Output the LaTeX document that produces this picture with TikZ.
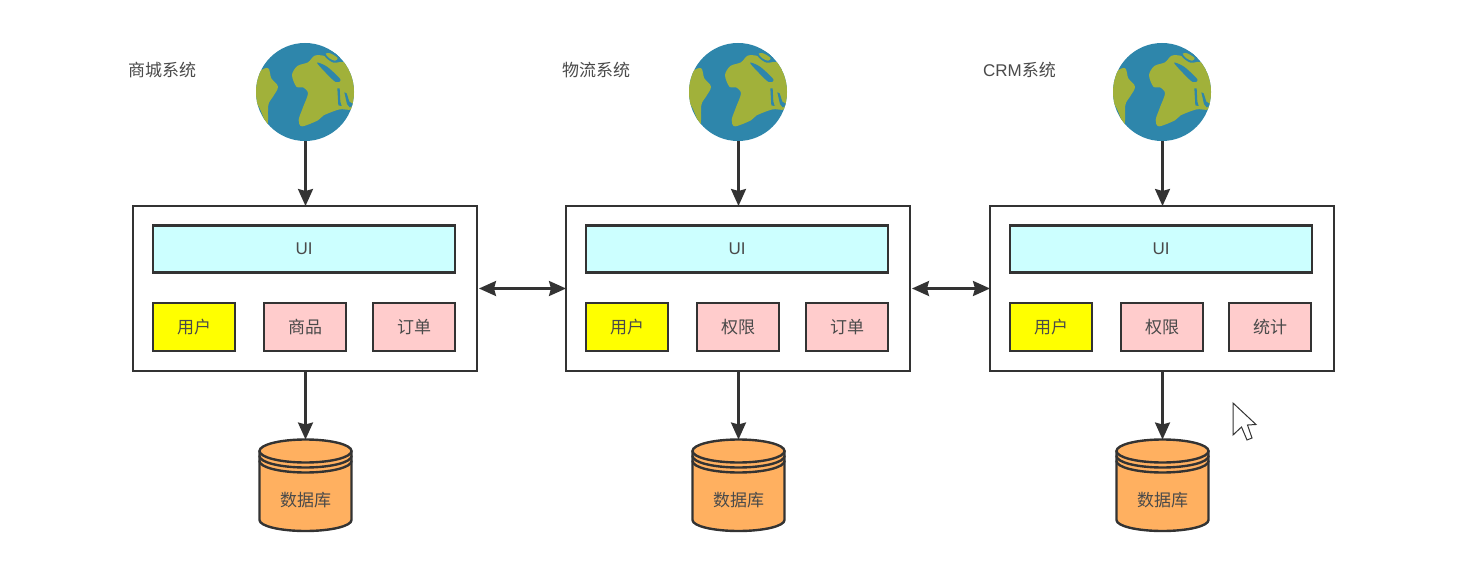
\documentclass[tikz,border=0pt]{standalone}
\usepackage{fontspec}
\setmainfont{Noto Sans CJK SC}
\newfontfamily\latinface{Liberation Sans}
\usetikzlibrary{arrows.meta}
\definecolor{ink}{HTML}{333333}
\definecolor{txt}{HTML}{4A4A4A}
\definecolor{sea}{HTML}{2E86AB}
\definecolor{land}{HTML}{A1B13A}
\definecolor{uifill}{HTML}{CCFFFF}
\definecolor{modpink}{HTML}{FFCCCC}
\definecolor{dborange}{HTML}{FFB060}
\definecolor{sharedyellow}{RGB}{255,255,0}
\newcommand{\dn}[1]{\raisebox{-1pt}{#1}}
\tikzset{
  base/.style={inner sep=0pt,outer sep=0pt,font=\fontsize{17pt}{18pt}\selectfont,text=txt},
  outerbox/.style={base,draw=ink,line width=2.4pt,fill=white,minimum width=344pt,minimum height=165pt},
  uibar/.style={base,draw=ink,line width=2.4pt,fill=uifill,minimum width=302pt,minimum height=47pt},
  module/.style={base,draw=ink,line width=2.4pt,fill=modpink,minimum width=82pt,minimum height=48pt},
  shared/.style={module,fill=sharedyellow},
  caption/.style={base},
  dbanchor/.style={inner sep=0pt,outer sep=0pt,minimum width=92pt,minimum height=92pt},
  globe/.style={circle,inner sep=0pt,outer sep=0pt,minimum size=98pt,fill=sea},
  drum/.style={draw=ink,line width=2.4pt,line cap=round},
  flow/.style={draw=ink,line width=2.4pt,-{Stealth[length=17pt,width=15pt,inset=2pt]}},
  bothways/.style={draw=ink,line width=2.4pt,{Stealth[length=17pt,width=15pt,inset=2pt]}-{Stealth[length=17pt,width=15pt,inset=2pt]}},
}
% Land masses of the globe, in a local grid of 3 units per pixel centred on (196,186)
\newcommand{\landmasses}{
  \fill[land] plot[smooth cycle,tension=0.55] coordinates
    {(40,150)(62,122)(86,115)(95,145)(115,170)(100,200)(86,225)(83,285)(60,235)(35,190)};
  \fill[land] plot[smooth cycle,tension=0.5] coordinates
    {(157,135)(173,108)(205,97)(225,77)(255,78)(285,95)(320,100)(355,150)(355,205)(335,238)(300,238)(252,256)(235,271)(187,289)(177,270)(190,232)(205,190)(190,172)(170,170)};
  \fill[sea] plot[smooth cycle,tension=0.5] coordinates {(232,98)(262,110)(302,148)(288,156)(258,128)};
  \fill[sea] plot[smooth cycle,tension=0.5] coordinates {(250,68)(270,62)(298,78)(302,94)(282,98)(262,86)};
  \fill[land] plot[smooth cycle,tension=0.5] coordinates {(258,71)(272,70)(294,84)(286,92)(268,84)};
  \fill[sea] (293,175) -- (300,175) -- (302,215) -- (306,228) -- (296,226) -- cycle;
  \fill[sea] (314,187) -- (321,190) -- (329,215) -- (345,225) -- (330,232) -- (322,222) -- cycle;
}
% One system column: suffix, centre x, second module offset and text, third module offset and text, caption x, caption
\newcommand{\systemcolumn}[8]{
  \node[globe] (globe#1) at (#2,92) {};
  \begin{scope}
    \clip (#2,92) circle[radius=49];
    \begin{scope}[shift={(#2,92)},x=0.3333pt,y=-0.3333pt,shift={(-196,-186)}]
      \landmasses
    \end{scope}
  \end{scope}
  \node[outerbox] (box#1) at (#2,288.5) {};
  \node[uibar] (ui#1) at (#2-1,249) {\dn{\latinface UI}};
  \node[shared] (user#1) at (#2-111,327) {\dn{用户}};
  \node[module] (modA#1) at (#2+#3,327) {\dn{#4}};
  \node[module] (modB#1) at (#2+#5,327) {\dn{#6}};
  \node[caption] (cap#1) at (#7,70) {#8};
  % database drum: body first, then the rim and its two bands
  \fill[dborange] (#2+0.5-46,451) -- (#2+0.5-46,520) arc[start angle=180,end angle=0,x radius=46,y radius=11] -- (#2+0.5+46,451) -- cycle;
  \draw[drum] (#2+0.5-46,451) -- (#2+0.5-46,520) arc[start angle=180,end angle=0,x radius=46,y radius=11] -- (#2+0.5+46,451);
  \draw[drum] (#2+0.5-46,456) arc[start angle=180,end angle=0,x radius=46,y radius=11.5];
  \draw[drum] (#2+0.5-46,461) arc[start angle=180,end angle=0,x radius=46,y radius=11.5];
  \draw[drum,fill=dborange] (#2+0.5,451) ellipse[x radius=46,y radius=11.5];
  \node[dbanchor] (db#1) at (#2+0.5,485.5) {};
  \node[base] (dbtext#1) at (#2+0.5,500) {\dn{数据库}};
  \draw[flow] (globe#1.south -| db#1.north) -- (box#1.north -| db#1.north);
  \draw[flow] (box#1.south -| db#1.north) -- (db#1.north);
}
\begin{document}
\begin{tikzpicture}[x=1pt,y=-1pt]
  \useasboundingbox (0,0) rectangle (1467,585);
  \fill[white] (0,0) rectangle (1467,585);
  \systemcolumn{a}{305}{0}{商品}{109}{订单}{162}{商城系统}
  \systemcolumn{b}{738}{0}{权限}{109}{订单}{596}{物流系统}
  \systemcolumn{c}{1162}{0}{权限}{108}{统计}{1019.5}{{\latinface CRM}系统}
  \draw[bothways,shorten <=2pt] (boxa.east) -- (boxb.west);
  \draw[bothways,shorten <=2pt] (boxb.east) -- (boxc.west);
  % mouse pointer
  \draw[ink,line width=1pt,fill=white,line join=miter]
    (1233,403) -- (1256,424.5) -- (1247.5,425) -- (1252,438) -- (1247,440) -- (1241.5,427) -- (1233,435) -- cycle;
\end{tikzpicture}
\end{document}
